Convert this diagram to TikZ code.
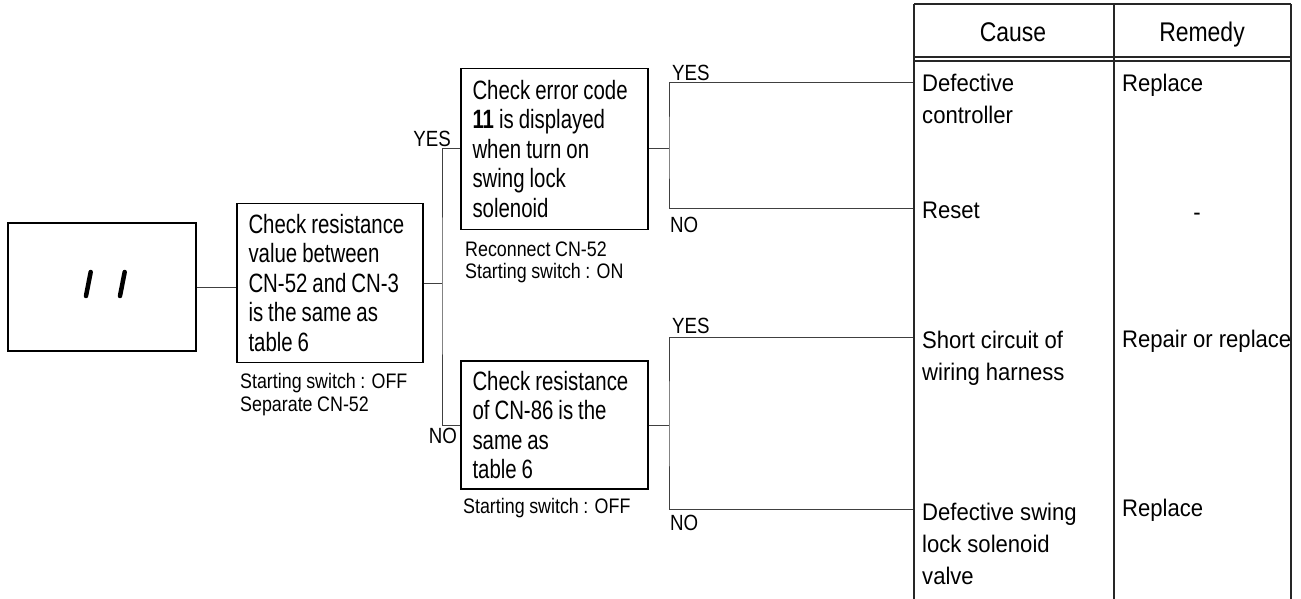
\documentclass[tikz,border=0pt]{standalone}
\usepackage{fontspec}
\setmainfont{Liberation Sans}
\newfontfamily\boxfont[FakeStretch=0.77]{Liberation Sans}
\newfontfamily\tabfont[FakeStretch=0.92]{Liberation Sans}
\newfontfamily\headfont[FakeStretch=0.85]{Liberation Sans}
\newfontfamily\smallfont[FakeStretch=0.85]{Liberation Sans}
\newcommand\myboxtext{\boxfont\fontsize{26.5pt}{29.5pt}\selectfont}
\newcommand\mylbltext{\smallfont\fontsize{21pt}{22.5pt}\selectfont}
\newcommand\mytabtext{\tabfont\fontsize{24pt}{32pt}\selectfont}
\begin{document}
\begin{tikzpicture}[x=1pt,y=-1pt,
  box/.style={draw=black, line width=1.3pt, inner xsep=11.5pt, inner ysep=0pt, align=left,
              font=\myboxtext, execute at begin node={\spaceskip=5pt\relax}},
  conn/.style={draw=black!75, line width=1pt},
  lbl/.style={inner sep=0pt, align=left, font=\mylbltext, execute at begin node={\spaceskip=4.6pt\relax}},
  yn/.style={inner sep=0pt, font=\smallfont\fontsize{22pt}{22pt}\selectfont},
  tab/.style={inner sep=0pt, align=left, font=\mytabtext, execute at begin node={\spaceskip=6pt\relax}},
  head/.style={inner sep=0pt, font=\headfont\fontsize{27pt}{30pt}\selectfont},
  tline/.style={draw=black!85, line width=1.3pt},
  seg/.style={draw=black, line width=4.5pt, line cap=round}
]
\useasboundingbox (0,0) rectangle (1301,599);

% boxes
\node[box, minimum width=188pt, minimum height=128pt] (b1) at (102,287) {};
\draw[seg] (86,296) -- (90.7,272);
\draw[seg] (120,296) -- (124.7,272);

\node[box, text width=163pt, minimum height=159pt] (b2) at (330,283)
  {Check resistance\\value between\\CN-52 and CN-3\\is the same as\\table 6};
\node[box, text width=164pt, minimum height=161pt] (b3) at (554.5,149)
  {Check error code\\\textbf{11} is displayed\\when turn on\\swing lock\\solenoid};
\node[box, text width=164pt, minimum height=128pt] (b4) at (554.5,425)
  {Check resistance\\of CN-86 is the\\same as\\table 6};

% notes under boxes
\node[lbl, anchor=north west] (n2) at (240,373.5) {Starting switch : OFF\\Separate CN-52};
\node[lbl, anchor=north west] (n3) at (465,241.5) {Reconnect CN-52\\Starting switch : ON};
\node[lbl, anchor=north west] (n4) at (463,498.5) {Starting switch : OFF};

% junction coordinates
\coordinate (j1) at (442,285);
\coordinate (k1) at (669,150);
\coordinate (k2) at (669,424);
\coordinate (t1) at (914,83);
\coordinate (t2) at (914,208);
\coordinate (t3) at (914,337);
\coordinate (t4) at (914,509);

% connectors
\draw[conn] (b1.east) -- (b1.east -| b2.west);
\draw[conn] (b2.east) -- (b2.east -| j1);
\draw[conn] (b3.west) -| (j1) |- (b4.west);
\draw[conn] (b3.east) -- (b3.east -| k1);
\draw[conn] (t1) -| (k1) |- (t2);
\draw[conn] (b4.east) -- (b4.east -| k2);
\draw[conn] (t3) -| (k2) |- (t4);

% YES / NO labels
\node[yn, anchor=south east] (y1) at (451,147) {YES};
\node[yn, anchor=north east] (o1) at (457,428) {NO};
\node[yn, anchor=south west] (y2) at (672,81) {YES};
\node[yn, anchor=north west] (o2) at (670,217) {NO};
\node[yn, anchor=south west] (y3) at (672,334) {YES};
\node[yn, anchor=north west] (o3) at (670,515) {NO};

% table
\draw[tline] (914,4) -- (1291,4);
\draw[tline] (914,57) -- (1291,57);
\draw[tline] (914,61) -- (1291,61);
\draw[tline] (914,4) -- (914,599);
\draw[tline] (1114,4) -- (1114,599);
\draw[tline] (1291,4) -- (1291,599);

\node[head, anchor=base] (hc) at (1013,41.7) {Cause};
\node[head, anchor=base] (hr) at (1202,41.7) {Remedy};

\node[tab, anchor=north west] (c1) at (922,74.4) {Defective\\controller};
\node[tab, anchor=north west] (c2) at (922,201.4) {Reset};
\node[tab, anchor=north west] (c3) at (922,331.4) {Short circuit of\\wiring harness};
\node[tab, anchor=north west] (c4) at (922,503.4) {Defective swing\\lock solenoid\\valve};

\node[tab, anchor=north west] (r1) at (1122,74.4) {Replace};
\node[tab] (r2) at (1197,217) {-};
\node[tab, anchor=north west] (r3) at (1122,330.4) {Repair or replace};
\node[tab, anchor=north west] (r4) at (1122,499.4) {Replace};
\end{tikzpicture}
\end{document}
